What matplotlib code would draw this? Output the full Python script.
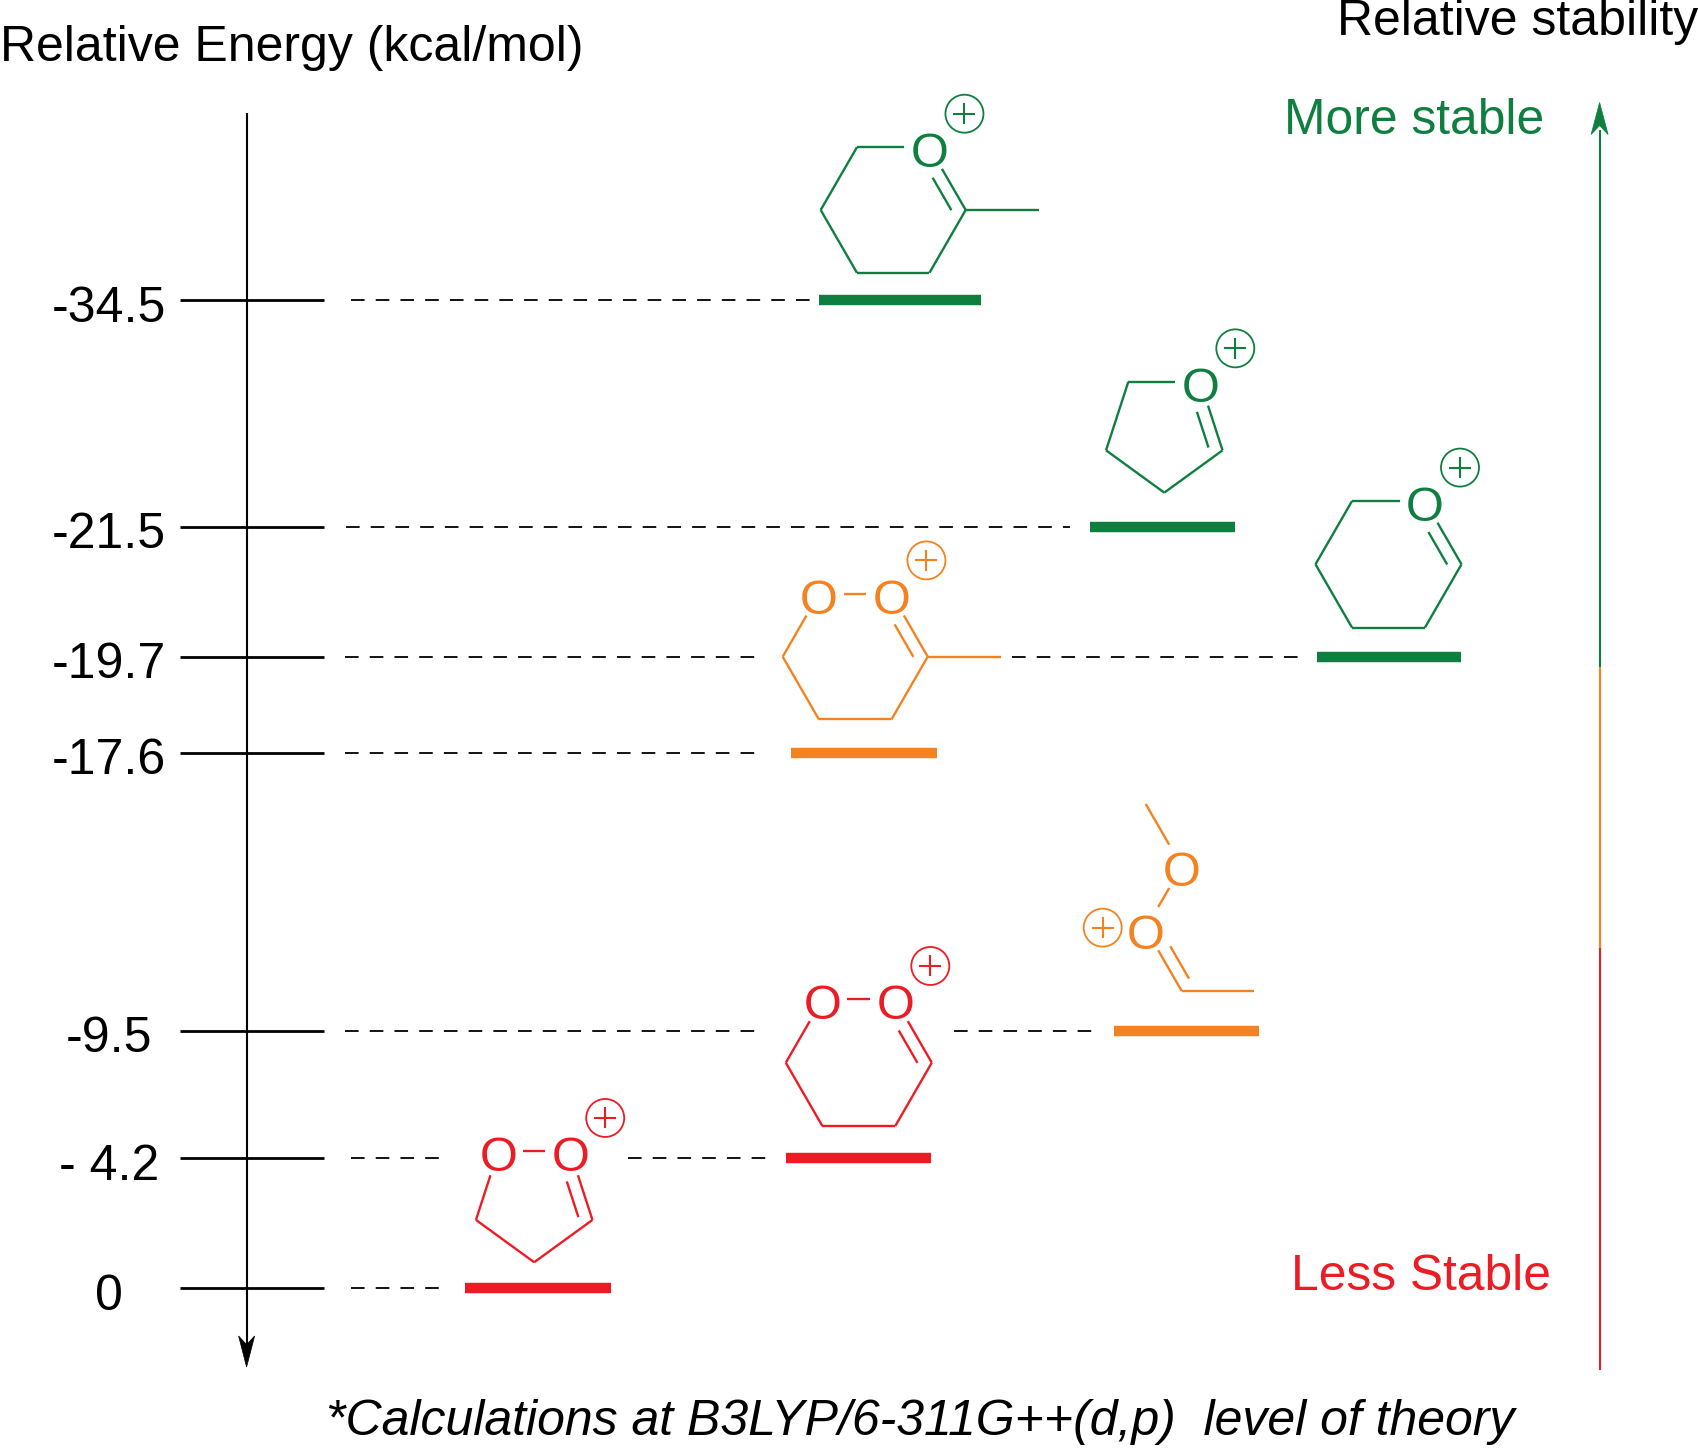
import numpy as np
import matplotlib.pyplot as plt
from matplotlib.patches import Circle, Polygon

plt.rcParams['font.family'] = ['Liberation Sans', 'DejaVu Sans']
plt.rcParams['lines.scale_dashes'] = False

# Energy levels (kcal/mol) and their place on the schematic (not to scale) axis
energies = [-34.5, -21.5, -19.7, -17.6, -9.5, -4.2, 0]
energy_labels = ['-34.5', '-21.5', '-19.7', '-17.6', '-9.5', '- 4.2', '0']
level_y = [300, 527, 657, 753, 1031, 1158, 1288]
ypos = dict(zip(energies, level_y))

# Species on the diagram
species = ['dioxolanylium', 'dioxanylium', 'open chain', 'methyl dioxanylium',
           'pyranylium', 'furanylium', 'methyl pyranylium']
species_energy = [0, -4.2, -9.5, -17.6, -19.7, -21.5, -34.5]
species_class = ['less', 'less', 'mid', 'mid', 'more', 'more', 'more']

colors = {'more': '#0e7f3f', 'mid': '#f58220', 'less': '#ed1c24'}

# horizontal placement of each level bar (pixels)
bar_x0 = [465, 786, 1114, 791, 1317, 1090, 819]
bar_x1 = [611, 931, 1259, 937, 1461, 1235, 981]

# dashed connectors: (energy, x start, x end)
connectors = [(-34.5, 351, 819), (-21.5, 346, 1070), (-19.7, 345, 764),
              (-19.7, 1012, 1300), (-17.6, 345, 764), (-9.5, 345, 764),
              (-9.5, 954, 1094), (-4.2, 351, 442), (-4.2, 628, 768),
              (0, 351, 442)]

W, H = 1699, 1448
fig = plt.figure(figsize=(W / 100, H / 100), dpi=100)
ax = fig.add_axes([0, 0, 1, 1])
ax.set_xlim(0, W)
ax.set_ylim(H, 0)
ax.axis('off')

FS = 36


def bond(p, q, col, tp=0, tq=0, lw=1.7):
    p = np.array(p, float)
    q = np.array(q, float)
    d = (q - p) / np.hypot(*(q - p))
    a = p + d * tp
    b = q - d * tq
    ax.plot([a[0], b[0]], [a[1], b[1]], color=col, lw=lw, solid_capstyle='butt')


def inner_line(c, o, toward, col):
    c = np.array(c, float)
    o = np.array(o, float)
    d = (o - c) / np.hypot(*(o - c))
    n = np.array([-d[1], d[0]])
    if np.dot(np.array(toward) - c, n) < 0:
        n = -n
    a = c + d * 7 + n * 12.5
    b = c + d * 44.5 + n * 12.5
    ax.plot([a[0], b[0]], [a[1], b[1]], color=col, lw=1.7, solid_capstyle='butt')


def circled_plus(x, y, col):
    ax.add_patch(Circle((x, y), 19, fill=False, ec=col, lw=1.3))
    ax.plot([x - 10, x + 10], [y, y], color=col, lw=1.5)
    ax.plot([x, x], [y - 9.5, y + 9.5], color=col, lw=1.5)


def oxygen(p, col):
    ax.text(p[0], p[1] + 20, 'O', ha='center', va='baseline', fontsize=35, color=col)


def ring(cx, cy, R, angles, o_idx, col, methyl=False):
    pts = [(cx + R * np.cos(np.radians(a)), cy - R * np.sin(np.radians(a))) for a in angles]
    n = len(pts)
    for i in range(n):
        j = (i + 1) % n
        bond(pts[i], pts[j], col, 25 if i in o_idx else 0, 25 if j in o_idx else 0)
    inner_line(pts[0], pts[1], (cx, cy), col)
    for k in o_idx:
        oxygen(pts[k], col)
    circled_plus(pts[1][0] + 35, pts[1][1] - 33.5, col)
    if methyl:
        bond(pts[0], (pts[0][0] + 73, pts[0][1]), col)


def arrowhead(x, tip, direction, col, length=31, half=8):
    base = tip - direction * length
    notch = tip - direction * length * 0.72
    ax.add_patch(Polygon([(x - half, base), (x, tip), (x + half, base), (x, notch)],
                         closed=True, fc=col, ec=col, lw=0.5))


# energy axis
ax.plot([246.6, 246.6], [114, 1345], color='black', lw=1.5)
arrowhead(246.6, 1367, 1, 'black')
for e, lab in zip(energies, energy_labels):
    y = ypos[e]
    ax.plot([180, 324], [y, y], color='black', lw=2.0, solid_capstyle='butt')
    ax.text(109, y + 21.5, lab, ha='center', va='baseline', fontsize=FS)

# dashed connectors
for e, x0, x1 in connectors:
    ax.plot([x0, x1], [ypos[e], ypos[e]], color='black', lw=1.3, dashes=(9.8, 8.0))

# level bars
for e, cls, x0, x1 in zip(species_energy, species_class, bar_x0, bar_x1):
    ax.plot([x0, x1], [ypos[e], ypos[e]], color=colors[cls], lw=7.5, solid_capstyle='butt')

hexa = [0, 60, 120, 180, 240, 300]
penta = [342, 54, 126, 198, 270]
R5 = 72 / (2 * np.sin(np.radians(36)))

# structures
ring(534.2, 1201, R5, penta, {1, 2}, colors['less'])
ring(858.8, 1062.7, 73, hexa, {1, 2}, colors['less'])
ring(855.2, 656.7, 72.5, hexa, {1, 2}, colors['mid'], methyl=True)
ring(1388.5, 564.3, 73, hexa, {1}, colors['more'])
ring(1164.3, 431.4, R5, penta, {1}, colors['more'])
ring(893.2, 210, 72.5, hexa, {1}, colors['more'], methyl=True)

# open-chain cation
c = colors['mid']
p3 = np.array([1181.7, 991.0])
p2 = p3 + np.array([-36.0, -62.35])
p1 = p2 + np.array([36.0, -62.35])
p0 = p1 + np.array([-36.0, -62.35])
bond(p0, p1, c, 0, 25)
bond(p1, p2, c, 25, 25)
bond(p2, p3, c, 25, 0)
bond(p3, p3 + np.array([72, 0]), c)
inner_line(p3, p2, (1300, 900), c)
oxygen(p1, c)
oxygen(p2, c)
circled_plus(p2[0] - 43, p2[1] - 1, c)

# stability arrow
ax.plot([1599.6, 1599.6], [130, 667], color=colors['more'], lw=1.5, solid_capstyle='butt')
ax.plot([1599.6, 1599.6], [667, 948], color=colors['mid'], lw=1.5, solid_capstyle='butt')
ax.plot([1599.6, 1599.6], [948, 1369.5], color=colors['less'], lw=1.5, solid_capstyle='butt')
arrowhead(1599.6, 102.5, -1, colors['more'], length=32, half=8.5)

# titles
ax.text(0, 61, 'Relative Energy (kcal/mol)', ha='left', va='baseline', fontsize=36)
ax.text(1337, 35, 'Relative stability', ha='left', va='baseline', fontsize=36)
ax.text(1284, 134, 'More stable', ha='left', va='baseline', fontsize=35.8, color=colors['more'])
ax.text(1291, 1289.5, 'Less Stable', ha='left', va='baseline', fontsize=35.8, color=colors['less'])
ax.text(326, 1435, '*Calculations at B3LYP/6-311G++(d,p)  level of theory',
        ha='left', va='baseline', fontsize=36, style='italic')

fig.savefig('out.png', dpi=100)
